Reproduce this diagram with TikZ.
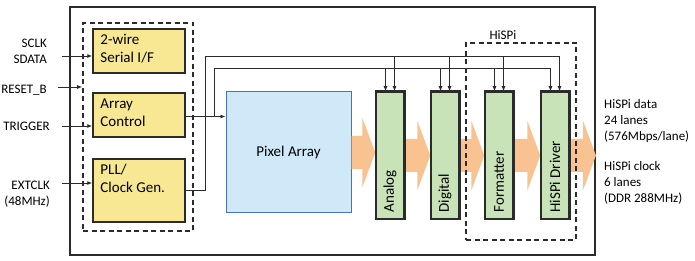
\documentclass[tikz,border=0pt]{standalone}
\usepackage{fontspec}
\setmainfont{Carlito}
\usepackage{xcolor}
\usetikzlibrary{arrows.meta, positioning, calc}

\definecolor{blkyellow}{HTML}{F8E793}
\definecolor{pixblue}{HTML}{CFE9F8}
\definecolor{pixedge}{HTML}{4A72C0}
\definecolor{procgreen}{HTML}{C8E3B8}
\definecolor{busorange}{HTML}{F9C291}
\definecolor{edgegray}{HTML}{2B2B2B}

%% fat data-path arrow from the east side of #1 to the point #2
\newcommand{\fatarrow}[2]{%
  \fill[busorange] let \p1=(#1.east), \p2=(#2), \p3=(#1.center) in
    (\x1,\y3+16.5pt) -- (\x2-13pt,\y3+16.5pt) -- (\x2-13pt,\y3+35pt)
    -- (\x2,\y3) -- (\x2-13pt,\y3-35pt) -- (\x2-13pt,\y3-16.5pt)
    -- (\x1,\y3-16.5pt) -- cycle;}

\begin{document}
\begin{tikzpicture}[
    x=1pt, y=-1pt,
    >={Latex[length=5pt,width=4pt]},
    font=\fontsize{13}{16}\selectfont,
    chipbox/.style={draw=edgegray, line width=1.8pt, inner sep=0pt,
        minimum width=525pt, minimum height=248pt},
    grpbox/.style={draw=edgegray, line width=1.6pt,
        dash pattern=on 5pt off 3.5pt, inner sep=0pt},
    ctlbox/.style={draw=edgegray, line width=1.5pt, fill=blkyellow,
        minimum width=92pt, inner sep=0pt},
    blocktxt/.style={font=\fontsize{15}{18}\selectfont, align=left,
        inner sep=0pt, anchor=north west},
    procbox/.style={draw=edgegray, line width=1.5pt, fill=procgreen,
        minimum width=28pt, minimum height=127pt, inner sep=0pt},
    proctxt/.style={font=\fontsize{15}{18}\selectfont, rotate=90,
        anchor=west, inner sep=0pt},
    sidelabel/.style={align=right, anchor=east, inner sep=0pt},
    outlabel/.style={align=left, anchor=west, inner sep=0pt},
    wire/.style={draw=edgegray, line width=0.8pt},
]
\useasboundingbox (0,0) rectangle (695,261);

%% ========== CHIP OUTLINE ==========
\node[chipbox] (chip) at (332.5,131) {};

%% ========== DATA PATH BLOCKS ==========
\node[draw=pixedge, line width=1pt, fill=pixblue, minimum width=125pt,
    minimum height=121pt, inner sep=0pt,
    font=\fontsize{15}{18}\selectfont] (pix) at (288.5,152.5) {Pixel Array};
\node[procbox] (ana) at (390,155.5) {};
\node[procbox] (dig) at (445,155.5) {};
\node[procbox] (fmt) at (499,155.5) {};
\node[procbox] (drv) at (555,155.5) {};

%% fat arrows between the stages
\fatarrow{pix}{ana.west}
\fatarrow{ana}{dig.west}
\fatarrow{dig}{fmt.west}
\fatarrow{fmt}{drv.west}
\fatarrow{drv}{chip.east}

%% redraw the stage boxes over the arrow tips
\foreach \b in {ana,dig,fmt,drv}
    \draw[edgegray, line width=1.5pt] (\b.south west) rectangle (\b.north east);

\node[proctxt] at ([yshift=7pt]ana.south) {Analog};
\node[proctxt] at ([yshift=7pt]dig.south) {Digital};
\node[proctxt] at ([yshift=7pt]fmt.south) {Formatter};
\node[proctxt] at ([yshift=7pt]drv.south) {HiSPi Driver};

%% ========== CONTROL BLOCKS ==========
\node[ctlbox, minimum height=44pt] (ser) at (139,51) {};
\node[ctlbox, minimum height=44pt] (ctrl) at (139,115) {};
\node[ctlbox, minimum height=63pt] (pll) at (139,190.5) {};
\node[blocktxt] at ([shift={(8pt,-6pt)}]ser.north west) {2-wire\\Serial I/F};
\node[blocktxt] at ([shift={(8pt,-6pt)}]ctrl.north west) {Array\\Control};
\node[blocktxt] at ([shift={(8pt,-6pt)}]pll.north west) {PLL/\\Clock Gen.};

%% ========== CONTROL WIRES ==========
\coordinate (clkbus) at (205,56);
\coordinate (ctlbus) at (214,68);
\draw[wire, ->] (pll.east) -| (clkbus) -| ([xshift=4.5pt]drv.north);
\draw[wire, ->] ([yshift=-1.5pt]ctrl.east) coordinate (c1) -- (c1 -| pix.west);
\draw[wire, ->] (c1 -| ctlbus) -- (ctlbus) -| ([xshift=-4.5pt]drv.north);
\foreach \b in {ana,dig,fmt} {
    \draw[wire, ->] ([xshift=4.5pt]\b.north |- clkbus) -- ([xshift=4.5pt]\b.north);
    \draw[wire, ->] ([xshift=-4.5pt]\b.north |- ctlbus) -- ([xshift=-4.5pt]\b.north);
}

%% ========== DASHED GROUPS ==========
\node[grpbox, minimum width=110pt, minimum height=208pt] (grp) at (138,127) {};
\node[grpbox, minimum width=110pt, minimum height=197pt] (hispi) at (521,141.5) {};
\node[inner sep=0pt] (hispilbl) at (503,35) {HiSPi};

%% ========== INPUTS ==========
\node[sidelabel] (sclk) at (47,51) {SCLK\\SDATA};
\node[sidelabel] (reset) at (47,90) {RESET\_B};
\node[sidelabel] (trig) at (50,126) {TRIGGER};
\node[sidelabel] (ext) at (50,194) {EXTCLK\\(48MHz)};

\draw[wire, ->] ([xshift=15pt,yshift=-5pt]sclk.east) coordinate (s1) -- (s1 -| ser.west);
\draw[wire, ->] ([xshift=11pt,yshift=3pt]reset.east) coordinate (s2) -- (s2 -| grp.west);
\draw[wire, ->] ([xshift=12pt]trig.east) coordinate (s3) -- (s3 -| ctrl.west);
\draw[wire, ->] ([xshift=12pt,yshift=11pt]ext.east) coordinate (s4) -- (s4 -| pll.west);

%% ========== OUTPUTS ==========
\node[outlabel] (outd) at (604,121) {HiSPi data\\24 lanes\\(576Mbps/lane)};
\node[outlabel] (outc) at (604,183) {HiSPi clock\\6 lanes\\(DDR 288MHz)};
\end{tikzpicture}
\end{document}
